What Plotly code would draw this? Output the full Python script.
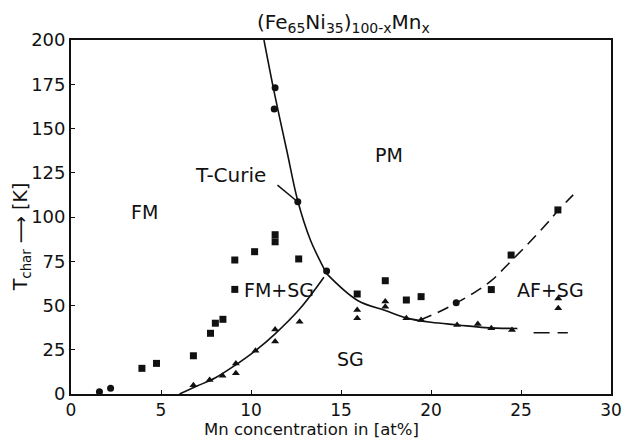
import plotly.graph_objects as go

# --- data ---
sq_x = [3.94, 4.75, 6.8, 7.75, 8.02, 8.44, 9.1, 9.1, 10.2, 11.34, 11.34, 12.65,
        15.9, 17.46, 18.63, 19.45, 23.35, 24.45, 27.05]
sq_y = [14.5, 17.3, 21.6, 34.3, 40.0, 42.2, 59.1, 75.7, 80.4, 86.0, 90.0, 76.3,
        56.5, 64.0, 53.1, 55.0, 59.0, 78.5, 104.0]

tri_x = [6.8, 7.7, 8.42, 9.16, 9.16, 10.25, 11.34, 11.34, 12.7,
         15.9, 15.9, 17.46, 17.46, 18.63, 19.45, 21.45, 22.6, 23.35, 24.5, 27.07, 27.07]
tri_y = [5.0, 7.9, 10.3, 11.7, 17.3, 24.5, 29.6, 36.5, 40.8,
         47.5, 42.8, 52.2, 49.3, 42.8, 41.8, 39.0, 39.5, 37.1, 36.2, 54.0, 48.4]

circ_x = [1.58, 2.2, 11.34, 11.29, 12.6, 14.2, 21.4]
circ_y = [1.3, 3.2, 173.0, 161.0, 108.6, 69.5, 51.5]

curie_x = [10.72, 11.3, 12.0, 12.6, 13.3, 14.2]
curie_y = [200, 170, 137, 109, 87, 68]

fmsg_x = [6.03, 7.0, 8.0, 9.16, 10.25, 11.34, 12.7, 14.05]
fmsg_y = [0, 4.5, 9.0, 16.5, 24.5, 34.0, 48.0, 66.0]

sgpm_x = [14.2, 15.9, 17.5, 18.6, 20.0, 21.5, 23.0, 24.8]
sgpm_y = [68, 53, 47, 43, 40.5, 39, 37.5, 37]

af_x = [19.4, 20.4, 21.36, 22.4, 23.35, 24.44, 25.5, 26.5, 27.0, 27.9]
af_y = [41.8, 46.2, 51.2, 57.3, 64.0, 75.0, 86.0, 97.0, 103.0, 112.5]

afh_x = [25.7, 27.6]
afh_y = [34.6, 34.6]

x_ticks = [0, 5, 10, 15, 20, 25, 30]
y_ticks = [0, 25, 50, 75, 100, 125, 150, 175, 200]

labels = [("FM", 4.1, 103, 19), ("PM", 17.65, 135, 19), ("T-Curie", 8.85, 124, 20),
          ("FM+SG", 11.55, 59, 19), ("SG", 15.55, 20, 19), ("AF+SG", 26.65, 59, 19)]

BLACK = "#111111"
fig = go.Figure()
line_kw = dict(color=BLACK, width=1.6)
fig.add_trace(go.Scatter(x=curie_x, y=curie_y, mode="lines", line=dict(shape="spline", **line_kw)))
fig.add_trace(go.Scatter(x=fmsg_x, y=fmsg_y, mode="lines", line=dict(shape="spline", **line_kw)))
fig.add_trace(go.Scatter(x=sgpm_x, y=sgpm_y, mode="lines", line=dict(shape="spline", **line_kw)))
fig.add_trace(go.Scatter(x=af_x, y=af_y, mode="lines",
                         line=dict(shape="spline", dash="12px,7px", **line_kw)))
fig.add_trace(go.Scatter(x=afh_x, y=afh_y, mode="lines",
                         line=dict(dash="16px,8px", color=BLACK, width=1.6)))

fig.add_trace(go.Scatter(x=sq_x, y=sq_y, mode="markers",
                         marker=dict(symbol="square", size=7, color=BLACK)))
fig.add_trace(go.Scatter(x=tri_x, y=tri_y, mode="markers",
                         marker=dict(symbol="triangle-up", size=7, color=BLACK)))
fig.add_trace(go.Scatter(x=circ_x, y=circ_y, mode="markers",
                         marker=dict(symbol="circle", size=7, color=BLACK)))

for t, x, y, s in labels:
    fig.add_annotation(x=x, y=y, text=t, showarrow=False, xref="x", yref="y",
                       font=dict(family="DejaVu Sans", size=s, color=BLACK))

# T-Curie leader line
fig.add_shape(type="line", x0=11.47, y0=118, x1=12.47, y1=109.6,
              xref="x", yref="y", line=dict(color=BLACK, width=1.5))

# title
fig.add_annotation(x=0.505, y=1.0, xref="paper", yref="paper", yanchor="bottom",
                   text="(Fe<sub>65</sub>Ni<sub>35</sub>)<sub>100-x</sub>Mn<sub>x</sub>",
                   showarrow=False, yshift=2,
                   font=dict(family="DejaVu Sans", size=20, color=BLACK))
# y-axis title
fig.add_annotation(x=-0.118, y=0.445, xref="paper", yref="paper", textangle=-90,
                   text="T<sub>char</sub> ⟶ [K]", showarrow=False,
                   font=dict(family="DejaVu Sans", size=19, color=BLACK))
# x-axis title
fig.add_annotation(x=0.445, y=0, xref="paper", yref="paper", yanchor="top", yshift=-24,
                   text="Mn concentration in [at%]", showarrow=False,
                   font=dict(family="DejaVu Sans", size=16.5, color=BLACK))

axis_common = dict(showgrid=False, zeroline=False, showline=True, linecolor=BLACK,
                   linewidth=1.8, mirror=True, ticks="inside", ticklen=4,
                   tickcolor=BLACK)
fig.update_xaxes(range=[0, 30], tickvals=x_ticks, ticktext=[str(v) for v in x_ticks],
                 tickfont=dict(family="DejaVu Sans", size=17, color=BLACK), **axis_common)
fig.update_yaxes(range=[0, 200], tickvals=y_ticks, ticktext=[str(v) for v in y_ticks],
                 tickfont=dict(family="DejaVu Sans", size=18, color=BLACK), **axis_common)

fig.update_layout(width=633, height=438, margin=dict(l=71, r=11, t=40, b=44),
                  plot_bgcolor="white", paper_bgcolor="white", showlegend=False)

fig.write_html("out.html")
